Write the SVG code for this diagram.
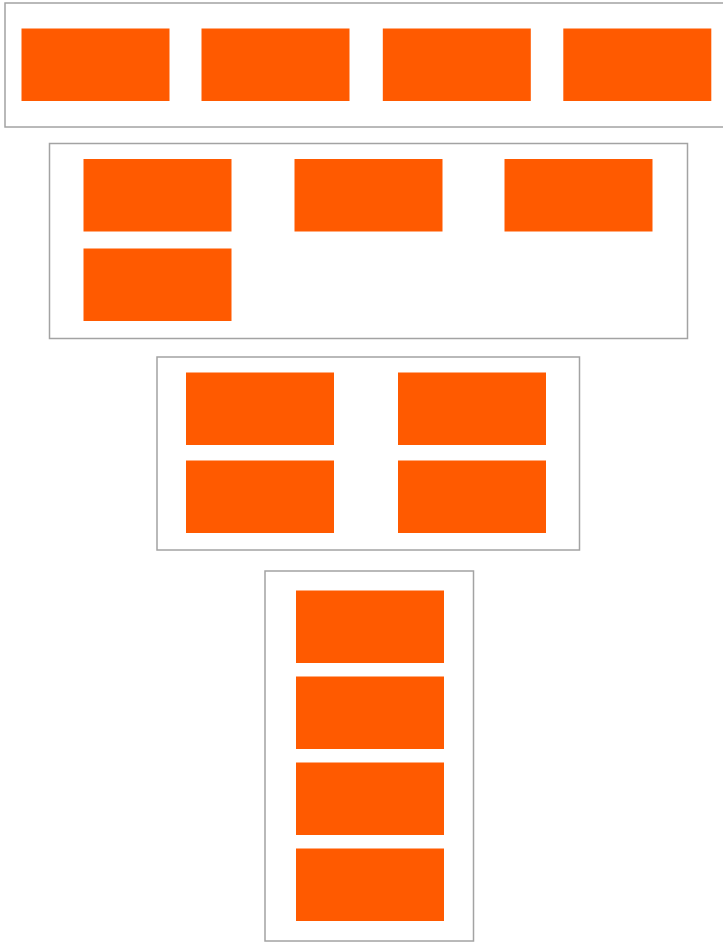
<svg xmlns="http://www.w3.org/2000/svg" width="723" height="942" viewBox="0 0 723 942">
<style>
.c{fill:#ffffff;stroke:#a3a3a3;stroke-width:1.5}
.n{fill:#ff5a00}
</style>
<rect width="723" height="942" fill="#ffffff"/>
<g id="group1">
<rect class="c" x="5" y="3" width="730" height="124"/>
<g id="n1"><rect class="n" x="21.5" y="28.5" width="148" height="72.5"/></g>
<g id="n2"><rect class="n" x="201.5" y="28.5" width="148" height="72.5"/></g>
<g id="n3"><rect class="n" x="382.8" y="28.5" width="148" height="72.5"/></g>
<g id="n4"><rect class="n" x="563.3" y="28.5" width="148" height="72.5"/></g>
</g>
<g id="group2">
<rect class="c" x="49.5" y="143.5" width="638" height="195"/>
<g id="n5"><rect class="n" x="83.5" y="159" width="148" height="72.5"/></g>
<g id="n6"><rect class="n" x="294.5" y="159" width="148" height="72.5"/></g>
<g id="n7"><rect class="n" x="504.5" y="159" width="148" height="72.5"/></g>
<g id="n8"><rect class="n" x="83.5" y="248.5" width="148" height="72.5"/></g>
</g>
<g id="group3">
<rect class="c" x="157" y="357" width="422.5" height="193"/>
<g id="n9"><rect class="n" x="186" y="372.5" width="148" height="72.5"/></g>
<g id="n10"><rect class="n" x="398" y="372.5" width="148" height="72.5"/></g>
<g id="n11"><rect class="n" x="186" y="460.5" width="148" height="72.5"/></g>
<g id="n12"><rect class="n" x="398" y="460.5" width="148" height="72.5"/></g>
</g>
<g id="group4">
<rect class="c" x="265" y="571" width="208.5" height="370"/>
<g id="n13"><rect class="n" x="296" y="590.5" width="148" height="72.5"/></g>
<g id="n14"><rect class="n" x="296" y="676.5" width="148" height="72.5"/></g>
<g id="n15"><rect class="n" x="296" y="762.5" width="148" height="72.5"/></g>
<g id="n16"><rect class="n" x="296" y="848.5" width="148" height="72.5"/></g>
</g>
<g id="connectors"></g>
</svg>
